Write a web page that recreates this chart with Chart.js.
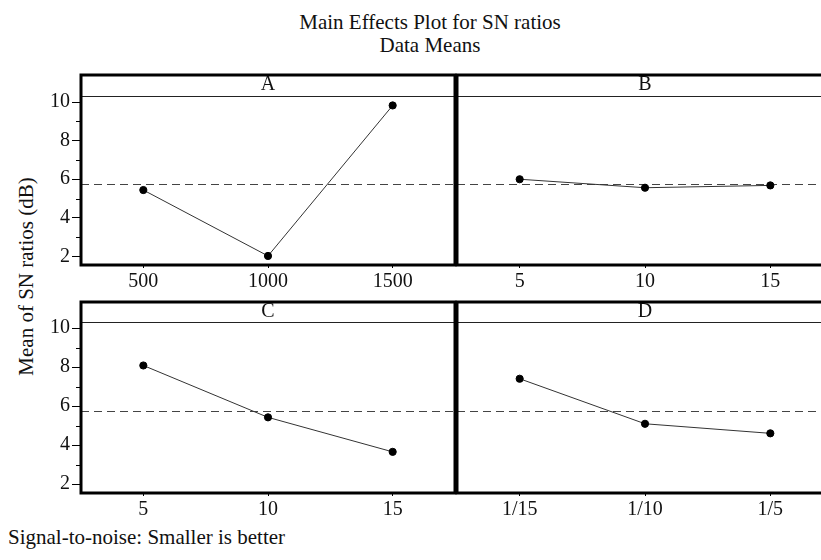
<!DOCTYPE html>
<html>
<head>
<meta charset="utf-8">
<script src="https://cdn.jsdelivr.net/npm/chart.js@4/dist/chart.umd.min.js"></script>
<style>
  html, body { margin: 0; padding: 0; background: #fff; width: 821px; height: 560px; overflow: hidden; position: relative; }
  canvas { position: absolute; }
  .txt { position: absolute; white-space: nowrap; font-family: 'Liberation Serif', Times, serif; font-size: 21px; line-height: 23px; color: #111; }
</style>
</head>
<body>
<div class="txt" style="font-family:'Liberation Serif'; left:230px; top:11px; width:400px; text-align:center;">Main Effects Plot for SN ratios<br>Data Means</div>
<div class="txt" style="font-family:'Liberation Serif'; left:-124px; top:265px; width:300px; text-align:center; transform:rotate(-90deg);">Mean of SN ratios (dB)</div>
<div class="txt" style="font-family:'Liberation Serif'; left:8px; top:526px;">Signal-to-noise: Smaller is better</div>

<canvas id="pA" width="460" height="225" style="left:0; top:70px;"></canvas>
<canvas id="pB" width="386" height="225" style="left:452px; top:70px;"></canvas>
<canvas id="pC" width="460" height="226" style="left:0; top:297px;"></canvas>
<canvas id="pD" width="386" height="226" style="left:452px; top:297px;"></canvas>

<script>
// factor levels and mean SN ratios
const A_LEVELS = ["500", "1000", "1500"];
const A_SN = [5.44, 2.02, 9.83];
const B_LEVELS = ["5", "10", "15"];
const B_SN = [6.00, 5.56, 5.68];
const C_LEVELS = ["5", "10", "15"];
const C_SN = [8.09, 5.43, 3.66];
const D_LEVELS = ["1/15", "1/10", "1/5"];
const D_SN = [7.41, 5.10, 4.61];

const GRAND_MEAN = 5.75;
const Y_TICKS = [2, 4, 6, 8, 10];
const Y_MINOR = [3, 5, 7, 9];
const Y_MIN = 1.55, Y_MAX = 10.32;

const SERIF = "'Liberation Serif'";
Chart.defaults.font.family = SERIF;

// mean reference line + panel frame + strip line + minor ticks
const framePlugin = {
  id: "frame",
  beforeDatasetsDraw(chart) {
    const { ctx, chartArea: a, scales: { y } } = chart;
    const py = Math.round(y.getPixelForValue(GRAND_MEAN)) + 0.5;
    ctx.save();
    ctx.strokeStyle = "#444";
    ctx.lineWidth = 1.2;
    ctx.setLineDash([8, 5]);
    ctx.beginPath(); ctx.moveTo(a.left, py); ctx.lineTo(a.right, py); ctx.stroke();
    ctx.restore();
  },
  afterDraw(chart) {
    const { ctx, chartArea: a, scales: { y } } = chart;
    const top = chart.titleBlock.top;
    ctx.save();
    ctx.strokeStyle = "#222";
    ctx.lineWidth = 1;
    ctx.beginPath(); ctx.moveTo(a.left, a.top + 0.5); ctx.lineTo(a.right, a.top + 0.5); ctx.stroke();
    if (y.options.display) {
      ctx.strokeStyle = "#000";
      Y_MINOR.forEach(v => {
        const py = Math.round(y.getPixelForValue(v)) + 0.5;
        ctx.beginPath(); ctx.moveTo(a.left - 5, py); ctx.lineTo(a.left, py); ctx.stroke();
      });
    }
    ctx.strokeStyle = "#000";
    ctx.lineWidth = 3;
    ctx.strokeRect(a.left, top + 1, a.right - a.left, a.bottom - top - 1);
    ctx.restore();
  }
};

function panel(id, name, levels, values, showY, stripH) {
  const yScale = {
    display: showY,
    min: Y_MIN, max: Y_MAX,
    afterBuildTicks: s => { s.ticks = Y_TICKS.map(v => ({ value: v })); },
    grid: { drawOnChartArea: false, tickLength: 9, tickColor: "#000" },
    border: { display: false },
    ticks: { color: "#111", padding: 2, font: { family: SERIF, size: 20 } },
  };
  if (showY) yScale.afterFit = s => { s.width = 81; };

  return new Chart(document.getElementById(id), {
    type: "line",
    data: {
      labels: levels,
      datasets: [{
        data: values,
        borderColor: "#333", borderWidth: 1, tension: 0,
        pointRadius: 3.6, pointBackgroundColor: "#000", pointBorderColor: "#000", pointBorderWidth: 1,
      }],
    },
    options: {
      responsive: false,
      animation: false,
      events: [],
      layout: { padding: { top: 4, right: 4, left: showY ? 0 : 4, bottom: 0 } },
      plugins: {
        legend: { display: false },
        tooltip: { enabled: false },
        title: {
          display: true, text: name, fullSize: false, padding: 0, color: "#111",
          font: { family: SERIF, size: 20, weight: "normal", lineHeight: stripH + "px" },
        },
      },
      scales: {
        x: {
          offset: true,
          grid: { drawOnChartArea: false, tickLength: 3, tickColor: "#000" },
          border: { display: false },
          ticks: { color: "#111", padding: 2, maxRotation: 0, font: { family: SERIF, size: 20 } },
          afterFit: s => { s.height = 30; },
        },
        y: yScale,
      },
    },
    plugins: [framePlugin],
  });
}

function drawAll() {
  const charts = [
    panel("pA", "A", A_LEVELS, A_SN, true, 22),
    panel("pB", "B", B_LEVELS, B_SN, false, 22),
    panel("pC", "C", C_LEVELS, C_SN, true, 21),
    panel("pD", "D", D_LEVELS, D_SN, false, 21),
  ];
  // redraw once the serif face is ready so canvas text uses it
  if (document.fonts && document.fonts.load) {
    document.fonts.load("20px 'Liberation Serif'").then(() => charts.forEach(c => c.update()));
  }
}
drawAll();
</script>
</body>
</html>
